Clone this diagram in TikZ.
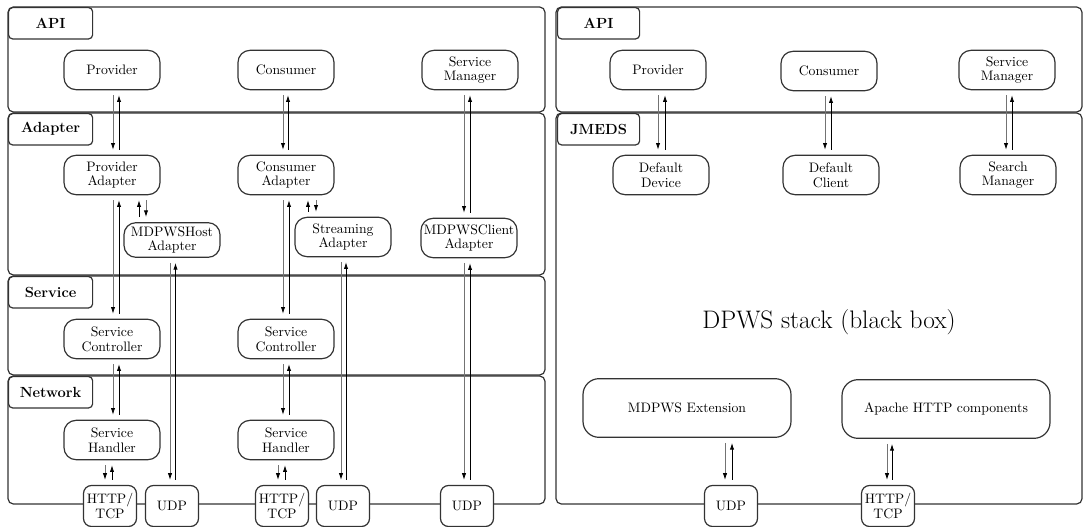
\documentclass[tikz,border=0pt]{standalone}
\usepackage{tikz}
\usetikzlibrary{arrows.meta}

\begin{document}
\begin{tikzpicture}[x=0.75pt,y=-0.75pt]
\tikzstyle{layer}=[draw=black!80, line width=0.9pt, rounded corners=4pt]
\tikzstyle{tag}=[draw=black!80, line width=0.9pt, rounded corners=3pt, anchor=north west, minimum width=63pt, minimum height=23.5pt, inner sep=0pt, font=\fontsize{11}{13}\selectfont\bfseries]
\tikzstyle{comp}=[draw=black!80, fill=white, line width=0.9pt, rounded corners=9pt, minimum width=72pt, minimum height=29.5pt, inner sep=1pt, align=center, font=\fontsize{10.3}{11}\selectfont]
\tikzstyle{proto}=[comp, rounded corners=6pt, minimum width=39.75pt, minimum height=30.75pt]
\tikzstyle{block}=[comp, rounded corners=12pt, minimum width=156pt, minimum height=44pt]
\tikzstyle{godown}=[black!55, line width=0.6pt, shorten <=3.75pt, shorten >=3.75pt, -{Latex[length=5pt,width=3.2pt,color=black]}]
\tikzstyle{goup}=[black, line width=0.6pt, shorten <=3.75pt, shorten >=3.75pt, -{Latex[length=5pt,width=3.2pt,color=black]}]
\useasboundingbox (0,0) rectangle (1084,527);

% layers, left stack
\draw[layer] (8,7) rectangle (545,112);
\draw[layer] (8,113) rectangle (545,275);
\draw[layer] (8,276) rectangle (545,375);
\draw[layer] (8,376) rectangle (545,504);
% layers, right stack
\draw[layer] (556,7) rectangle (1082,112);
\draw[layer] (556,113) rectangle (1082,504);

\node[tag] (tApiL) at (8,7) {API};
\node[tag] (tAdapter) at (8,113) {Adapter};
\node[tag] (tService) at (8,276) {Service};
\node[tag] (tNetwork) at (8,376) {Network};
\node[tag, minimum width=61.5pt] (tApiR) at (557,7) {API};
\node[tag, minimum width=61.5pt] (tJmeds) at (557,113) {JMEDS};

% left components
\node[comp] (prov) at (112,70) {Provider};
\node[comp] (cons) at (286,70) {Consumer};
\node[comp] (smgr) at (470,70) {Service\\Manager};
\node[comp] (provad) at (112,175) {Provider\\Adapter};
\node[comp] (consad) at (286,175) {Consumer\\Adapter};
\node[comp, minimum height=26pt] (hostad) at (172,240) {MDPWSHost\\Adapter};
\node[comp] (streamad) at (343,237) {Streaming\\Adapter};
\node[comp] (clientad) at (469,238) {MDPWSClient\\Adapter};
\node[comp] (ctrlA) at (112,339) {Service\\Controller};
\node[comp] (ctrlB) at (286,339) {Service\\Controller};
\node[comp] (handA) at (112,440) {Service\\Handler};
\node[comp] (handB) at (286,440) {Service\\Handler};
\node[proto] (httpA) at (110,506) {HTTP/\\TCP};
\node[proto] (udpA) at (172,506) {UDP};
\node[proto] (httpB) at (282,506) {HTTP/\\TCP};
\node[proto] (udpB) at (343,506) {UDP};
\node[proto] (udpC) at (467,506) {UDP};

% right components
\node[comp] (rprov) at (658,70) {Provider};
\node[comp] (rcons) at (829,71) {Consumer};
\node[comp] (rsmgr) at (1007,70) {Service\\Manager};
\node[comp] (ddev) at (661,175) {Default\\Device};
\node[comp] (dcli) at (831,175) {Default\\Client};
\node[comp] (rsearch) at (1008,175) {Search\\Manager};
\node (stack) at (829,322) {\fontsize{19}{22}\selectfont DPWS stack (black box)};
\node[block] (ext) at (687,408) {MDPWS Extension};
\node[block] (apache) at (946,409) {Apache HTTP components};
\node[proto] (rudp) at (731,506) {UDP};
\node[proto] (rhttp) at (888,506) {HTTP/\\TCP};

% request down, answer up
\foreach \a/\b/\d/\u in {prov/provad/1/7, provad/ctrlA/1/7, ctrlA/handA/1/7,
  handA/httpA/-7/0, provad/hostad/34/27, hostad/udpA/-2/3.5,
  cons/consad/-3/2, consad/ctrlB/-3/3, ctrlB/handB/-3/3, handB/httpB/-8/-1,
  consad/streamad/30/22, streamad/udpB/-2/3, smgr/clientad/-6/0, clientad/udpC/-5/1,
  rprov/ddev/0/7, rcons/dcli/-4/2, rsmgr/rsearch/-1/5, ext/rudp/38/45, apache/rhttp/-59/-54}
{
  \draw[godown] ([xshift=\d*0.75pt]\a.south) -- ([xshift=\d*0.75pt]\a.south |- \b.north);
  \draw[goup] ([xshift=\u*0.75pt]\a.south |- \b.north) -- ([xshift=\u*0.75pt]\a.south);
}
\end{tikzpicture}
\end{document}
